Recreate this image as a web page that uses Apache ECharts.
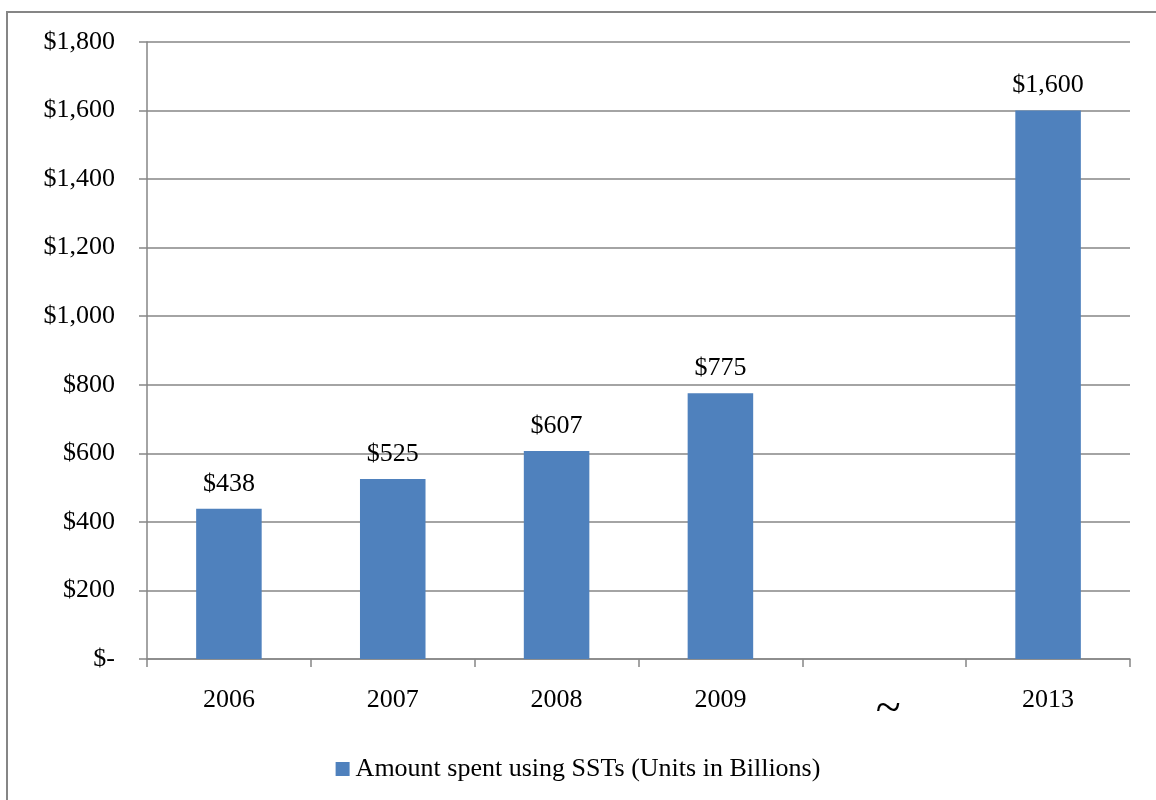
<!DOCTYPE html>
<html>
<head>
<meta charset="utf-8">
<script src="https://cdn.jsdelivr.net/npm/echarts@6/dist/echarts.min.js"></script>
<style>
html,body{margin:0;padding:0;background:#fff;}
#chart{width:1156px;height:800px;}
</style>
</head>
<body>
<div id="chart"></div>
<script>
const categories = ['2006', '2007', '2008', '2009', '~', '2013'];
const values = [438, 525, 607, 775, 0, 1600];
const seriesName = 'Amount spent using SSTs (Units in Billions)';
const yMin = 0, yMax = 1800, yStep = 200;

const FONT = '"Liberation Serif", "Times New Roman", serif';
const GRAY = '#868686';

function money(v) {
  if (v === 0) return '$-';
  return '$' + v.toLocaleString('en-US');
}

const chart = echarts.init(document.getElementById('chart'));
chart.setOption({
  animation: false,
  backgroundColor: '#fff',
  textStyle: { fontFamily: FONT },
  graphic: [{
    type: 'rect', silent: true, z: -1,
    shape: { x: 7, y: 12, width: 1300, height: 1000 },
    style: { fill: 'none', stroke: GRAY, lineWidth: 2 }
  }],
  grid: { left: 147, right: 26, top: 42, bottom: 141, containLabel: false },
  legend: {
    bottom: 13, left: 'center',
    itemWidth: 14, itemHeight: 14, itemGap: 10,
    icon: 'rect',
    textStyle: { fontFamily: FONT, fontSize: 26, color: '#000', padding: [2, 0, 0, 1] },
    data: [seriesName]
  },
  xAxis: {
    type: 'category',
    data: categories,
    axisLine: { lineStyle: { color: GRAY, width: 1.5 } },
    axisTick: { show: true, length: 8, lineStyle: { color: GRAY, width: 1.5 } },
    axisLabel: {
      margin: 28, color: '#000', fontFamily: FONT, fontSize: 26,
      formatter: function (v) { return v === '~' ? '{t|~}' : v; },
      rich: { t: { fontFamily: FONT, fontSize: 46, color: '#000', padding: [0, 0, 0, 8], lineHeight: 38, verticalAlign: 'top' } }
    }
  },
  yAxis: {
    type: 'value',
    min: yMin, max: yMax, interval: yStep,
    axisLine: { show: true, lineStyle: { color: GRAY, width: 1.5 } },
    axisTick: { show: true, length: 8, lineStyle: { color: GRAY, width: 1.5 } },
    splitLine: { show: true, lineStyle: { color: GRAY, width: 1.5 } },
    axisLabel: { margin: 32, color: '#000', fontFamily: FONT, fontSize: 26, formatter: money }
  },
  series: [{
    name: seriesName,
    type: 'bar',
    data: values,
    barWidth: '40%',
    itemStyle: { color: '#4F81BD' },
    label: {
      show: true, position: 'top', distance: 12,
      color: '#000', fontFamily: FONT, fontSize: 26,
      formatter: function (p) { return p.value === 0 ? '' : money(p.value); }
    }
  }]
});
</script>
</body>
</html>
